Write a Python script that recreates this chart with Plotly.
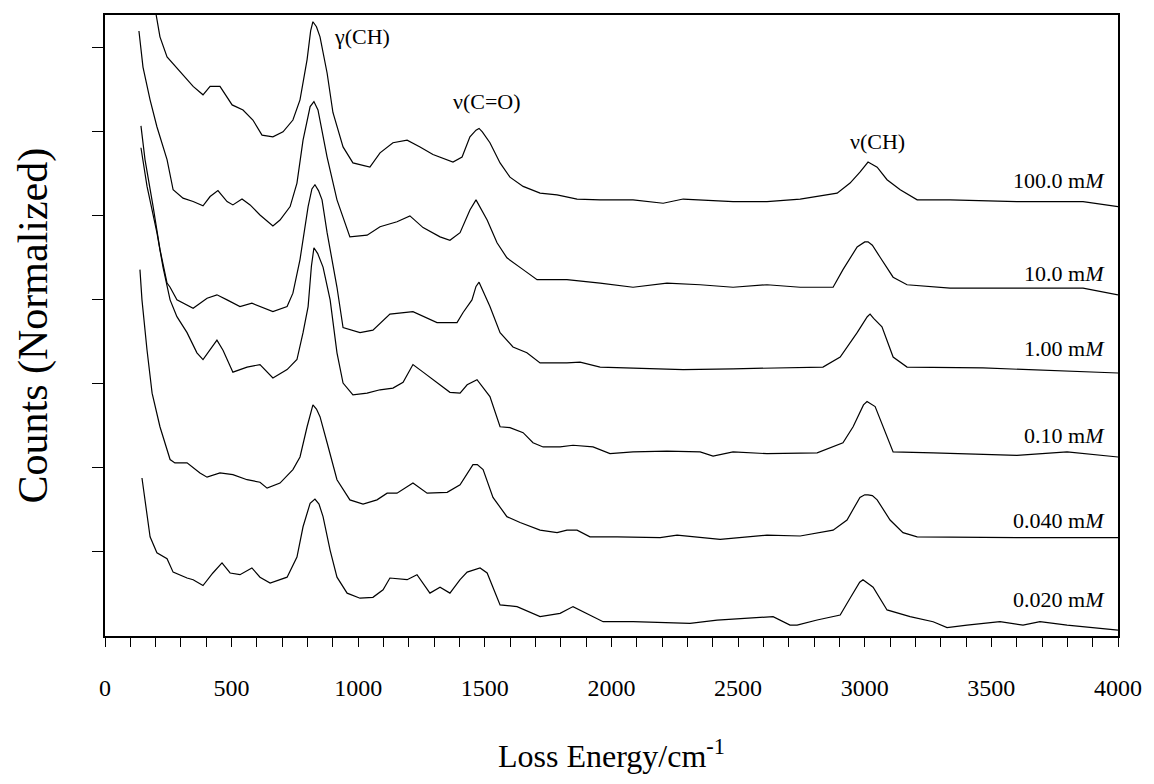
import plotly.graph_objects as go

# ---- data (x: loss energy in cm^-1, y: normalized counts, stacked with offsets) ----
x_100 = [190, 201, 217, 245, 284, 324, 348, 387, 415, 454, 482, 502, 545, 584, 620, 663, 703, 742, 770, 798,
         812, 821, 835, 849, 877, 900, 940, 979, 1046, 1086, 1137, 1193, 1244, 1295, 1374, 1410, 1441, 1465,
         1477, 1490, 1520, 1560, 1599, 1651, 1718, 1785, 1864, 1955, 2085, 2204, 2283, 2480, 2614, 2745, 2891,
         2942, 2981, 3005, 3013, 3025, 3049, 3088, 3140, 3207, 3337, 3601, 3862, 4000]
y_100 = [7.60, 7.39, 7.13, 6.89, 6.76, 6.62, 6.54, 6.44, 6.54, 6.54, 6.42, 6.32, 6.26, 6.14, 5.96, 5.94, 6.00,
         6.14, 6.38, 6.86, 7.20, 7.31, 7.25, 7.13, 6.70, 6.23, 5.82, 5.63, 5.58, 5.75, 5.87, 5.90, 5.82, 5.73,
         5.64, 5.70, 5.94, 6.02, 6.04, 6.00, 5.87, 5.63, 5.46, 5.35, 5.27, 5.25, 5.20, 5.19, 5.19, 5.15, 5.20,
         5.17, 5.17, 5.20, 5.27, 5.39, 5.52, 5.62, 5.64, 5.62, 5.58, 5.43, 5.31, 5.19, 5.19, 5.17, 5.17, 5.11]

x_10 = [134, 150, 178, 205, 245, 269, 308, 348, 387, 415, 446, 482, 505, 541, 573, 612, 663, 691, 731, 758,
        782, 810, 825, 841, 877, 916, 967, 1035, 1086, 1153, 1204, 1256, 1323, 1362, 1402, 1441, 1465, 1509,
        1548, 1587, 1651, 1706, 1824, 1955, 2085, 2219, 2350, 2480, 2614, 2745, 2875, 2914, 2970, 3000, 3013,
        3030, 3060, 3112, 3167, 3337, 3601, 3862, 4000]
y_10 = [7.20, 6.77, 6.38, 6.06, 5.67, 5.31, 5.21, 5.17, 5.12, 5.23, 5.30, 5.17, 5.13, 5.20, 5.13, 5.01, 4.88,
        4.95, 5.11, 5.39, 5.90, 6.30, 6.36, 6.26, 5.70, 5.19, 4.75, 4.77, 4.87, 4.93, 5.00, 4.86, 4.75, 4.71,
        4.80, 5.07, 5.19, 4.95, 4.68, 4.50, 4.36, 4.24, 4.24, 4.20, 4.15, 4.20, 4.18, 4.15, 4.18, 4.15, 4.15,
        4.36, 4.63, 4.69, 4.69, 4.65, 4.51, 4.27, 4.18, 4.14, 4.14, 4.14, 4.06]

x_1 = [142, 158, 190, 217, 245, 257, 284, 348, 403, 442, 482, 533, 580, 612, 663, 719, 742, 770, 802, 817,
       829, 843, 857, 877, 916, 940, 1007, 1058, 1125, 1216, 1311, 1390, 1414, 1449, 1465, 1477, 1490, 1520,
       1560, 1611, 1666, 1718, 1824, 1876, 1955, 2085, 2283, 2480, 2745, 2835, 2903, 2970, 3010, 3021, 3035,
       3068, 3112, 3167, 3467, 3862, 4000]
y_1 = [6.07, 5.67, 5.11, 4.60, 4.20, 4.15, 4.00, 3.90, 4.02, 4.06, 4.00, 3.92, 3.96, 3.92, 3.86, 3.92, 4.08,
       4.48, 5.11, 5.32, 5.37, 5.30, 5.19, 4.80, 4.15, 3.67, 3.61, 3.64, 3.83, 3.86, 3.73, 3.73, 3.85, 4.00,
       4.16, 4.21, 4.12, 3.92, 3.61, 3.44, 3.37, 3.25, 3.25, 3.26, 3.20, 3.19, 3.17, 3.18, 3.19, 3.20, 3.32,
       3.61, 3.80, 3.83, 3.78, 3.68, 3.32, 3.20, 3.19, 3.15, 3.13]

x_01 = [142, 166, 205, 229, 257, 284, 324, 363, 387, 415, 442, 466, 505, 561, 612, 663, 719, 758, 782, 802,
        815, 825, 840, 861, 889, 916, 940, 979, 1035, 1086, 1137, 1177, 1216, 1256, 1295, 1362, 1402, 1430,
        1469, 1520, 1560, 1599, 1651, 1690, 1730, 1797, 1848, 1927, 1994, 2085, 2219, 2350, 2401, 2480, 2614,
        2745, 2812, 2914, 2954, 2995, 3009, 3041, 3072, 3112, 3270, 3601, 3799, 4000]
y_01 = [5.81, 5.35, 4.80, 4.39, 4.00, 3.80, 3.61, 3.37, 3.29, 3.40, 3.52, 3.40, 3.14, 3.20, 3.23, 3.07, 3.17,
        3.29, 3.61, 3.92, 4.40, 4.62, 4.55, 4.39, 4.00, 3.37, 3.01, 2.87, 2.89, 2.93, 2.95, 3.02, 3.23, 3.14,
        3.05, 2.90, 2.89, 2.99, 3.05, 2.85, 2.49, 2.48, 2.42, 2.30, 2.25, 2.25, 2.27, 2.25, 2.17, 2.19, 2.20,
        2.19, 2.14, 2.19, 2.17, 2.18, 2.18, 2.30, 2.49, 2.75, 2.79, 2.73, 2.49, 2.19, 2.18, 2.15, 2.19, 2.13]

x_004 = [138, 146, 166, 186, 217, 257, 276, 324, 375, 403, 454, 505, 561, 612, 640, 691, 742, 770, 798, 821,
         835, 849, 877, 916, 967, 1019, 1074, 1114, 1153, 1216, 1272, 1351, 1402, 1453, 1470, 1493, 1532, 1587,
         1639, 1718, 1785, 1824, 1864, 1915, 2022, 2192, 2259, 2429, 2614, 2745, 2875, 2930, 2981, 3000, 3013,
         3030, 3049, 3100, 3151, 3207, 3601, 4000]
y_004 = [4.36, 4.00, 3.40, 2.89, 2.49, 2.10, 2.06, 2.06, 1.94, 1.89, 1.94, 1.92, 1.86, 1.83, 1.76, 1.82, 1.98,
         2.13, 2.49, 2.75, 2.70, 2.61, 2.30, 1.86, 1.62, 1.57, 1.62, 1.70, 1.70, 1.82, 1.70, 1.71, 1.80, 2.04,
         2.04, 1.98, 1.65, 1.42, 1.35, 1.26, 1.23, 1.26, 1.26, 1.18, 1.18, 1.17, 1.20, 1.15, 1.20, 1.19, 1.26,
         1.38, 1.65, 1.68, 1.68, 1.67, 1.62, 1.38, 1.23, 1.18, 1.17, 1.17]

x_002 = [146, 166, 178, 205, 245, 269, 324, 348, 387, 426, 462, 494, 533, 580, 612, 652, 719, 758, 782, 810,
         829, 845, 861, 889, 916, 956, 1007, 1058, 1098, 1125, 1193, 1232, 1283, 1323, 1362, 1402, 1430, 1481,
         1509, 1560, 1627, 1718, 1797, 1848, 1903, 1967, 2085, 2310, 2417, 2638, 2705, 2733, 2812, 2903, 2942,
         2980, 2993, 3033, 3088, 3179, 3270, 3325, 3404, 3534, 3625, 3692, 3799, 4000]
y_002 = [1.88, 1.46, 1.18, 0.99, 0.92, 0.76, 0.69, 0.67, 0.60, 0.75, 0.87, 0.75, 0.73, 0.81, 0.70, 0.63, 0.70,
         0.94, 1.30, 1.58, 1.63, 1.57, 1.42, 1.02, 0.70, 0.51, 0.45, 0.46, 0.55, 0.69, 0.67, 0.73, 0.51, 0.58,
         0.51, 0.67, 0.76, 0.81, 0.75, 0.37, 0.35, 0.23, 0.27, 0.35, 0.27, 0.17, 0.17, 0.15, 0.19, 0.23, 0.13,
         0.13, 0.19, 0.25, 0.45, 0.64, 0.67, 0.58, 0.31, 0.23, 0.17, 0.10, 0.13, 0.17, 0.13, 0.17, 0.13, 0.07]

series_x = [x_100, x_10, x_1, x_01, x_004, x_002]
series_y = [y_100, y_10, y_1, y_01, y_004, y_002]
conc_labels = ["100.0 m<i>M</i>", "10.0 m<i>M</i>", "1.00 m<i>M</i>",
               "0.10 m<i>M</i>", "0.040 m<i>M</i>", "0.020 m<i>M</i>"]
conc_label_y = [5.42, 4.31, 3.42, 2.39, 1.38, 0.43]
conc_label_x = 3957

peak_labels = ["γ(CH)", "ν(C=O)", "ν(CH)"]
peak_x = [1015, 1509, 3049]
peak_y = [7.14, 6.36, 5.89]

x_tick_vals = [0, 500, 1000, 1500, 2000, 2500, 3000, 3500, 4000]
y_tick_vals = [1, 2, 3, 4, 5, 6, 7]

FONT = "Liberation Serif"

fig = go.Figure()
for xs, ys, name in zip(series_x, series_y, conc_labels):
    fig.add_trace(go.Scatter(x=xs, y=ys, mode="lines", name=name,
                             line=dict(color="black", width=1.2), showlegend=False))

for txt, yy in zip(conc_labels, conc_label_y):
    fig.add_annotation(x=conc_label_x, y=yy, text=txt, showarrow=False, xanchor="right",
                       yanchor="middle", font=dict(family=FONT, size=22, color="black"))

for txt, xx, yy in zip(peak_labels, peak_x, peak_y):
    fig.add_annotation(x=xx, y=yy, text=txt, showarrow=False, xanchor="center",
                       yanchor="middle", font=dict(family=FONT, size=22, color="black"))

# axis titles
fig.add_annotation(xref="paper", yref="paper", x=0.5, y=0, yshift=-118, showarrow=False,
                   text="Loss Energy/cm<sup>-1</sup>", yanchor="middle",
                   font=dict(family=FONT, size=32, color="black"))
fig.add_annotation(xref="paper", yref="paper", x=0, y=0.5, xshift=-72, showarrow=False,
                   text="Counts (Normalized)", textangle=-90, xanchor="center", yanchor="middle",
                   font=dict(family=FONT, size=42, color="black"))

fig.update_layout(
    width=1154, height=784,
    margin=dict(l=105, r=36, t=15, b=148),
    paper_bgcolor="white", plot_bgcolor="white",
    showlegend=False,
    font=dict(family=FONT, color="black"),
)
fig.update_xaxes(range=[0, 4000], tickvals=x_tick_vals, ticks="outside", ticklen=9, tickwidth=1,
                 tickcolor="black", showline=True, linecolor="black", linewidth=1.5, mirror=True,
                 showgrid=False, zeroline=False, ticklabelstandoff=20,
                 tickfont=dict(family=FONT, size=24, color="black"),
                 minor=dict(dtick=100, tick0=0, ticks="outside", ticklen=9, tickcolor="black",
                            tickwidth=1, showgrid=False))
fig.update_yaxes(range=[0, 7.39], tickvals=y_tick_vals, ticks="outside", ticklen=11, tickwidth=1,
                 tickcolor="black", showline=True, linecolor="black", linewidth=1.5, mirror=True,
                 showgrid=False, zeroline=False, showticklabels=False)

fig.write_html("out.html")
